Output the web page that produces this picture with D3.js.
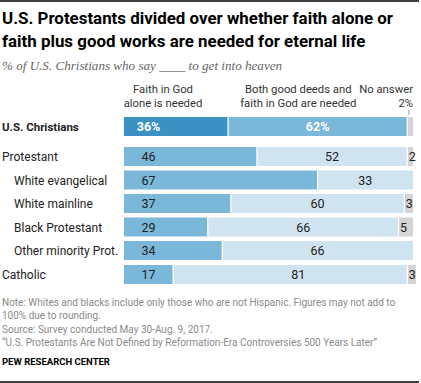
<!DOCTYPE html>
<html><head><meta charset="utf-8">
<script src="https://cdn.jsdelivr.net/npm/d3@7"></script>
<style>body{margin:0;background:#fff}svg{display:block}</style>
</head><body><div id="chart"></div>
<script>
const categories = ["U.S. Christians","Protestant","White evangelical","White mainline","Black Protestant","Other minority Prot.","Catholic"];
const indent = [0,0,1,1,1,1,0];
const faithAlone = [36,46,67,37,29,34,17];
const both = [62,52,33,60,66,66,81];
const noAnswer = [2,2,0,3,5,0,3];
const noAnswerLabel = ["","2","","3","5","","3"];
const seriesNames = ["Faith in God|alone is needed","Both good deeds and|faith in God are needed","No answer|2%"];

const W=421,H=383;
const svg=d3.select("#chart").append("svg").attr("width",W).attr("height",H);
const x=d3.scaleLinear().domain([0,100]).range([124,413]);
const rowY=[117,147,170.5,194,217.5,241,265];
const y=d3.scaleOrdinal().domain(categories).range(rowY);
const bh=19;

svg.append("line").attr("x1",0).attr("x2",419).attr("y1",1).attr("y2",1).attr("stroke","#000").attr("stroke-width",1.5);
svg.append("line").attr("x1",0).attr("x2",419).attr("y1",382).attr("y2",382).attr("stroke","#000").attr("stroke-width",1.5);

const title=svg.append("text").attr("x",2).attr("font-family","Roboto, sans-serif").attr("font-weight",700).attr("font-size",16.9).attr("fill","#000");
title.append("tspan").attr("x",2).attr("y",24).text("U.S. Protestants divided over whether faith alone or");
title.append("tspan").attr("x",2).attr("y",47).text("faith plus good works are needed for eternal life");
svg.append("text").attr("x",2).attr("y",70).attr("font-family","Liberation Serif, serif").attr("font-style","italic").attr("font-size",13.1).attr("fill","#666").text("% of U.S. Christians who say ____ to get into heaven");

// legend header
const hx=[x(13.5),x(60.3),413], ha=["middle","middle","end"];
seriesNames.forEach((s,i)=>{
  const t=svg.append("text").attr("font-family","Roboto, sans-serif").attr("font-size",11.3).attr("fill","#333").attr("text-anchor",ha[i]);
  s.split("|").forEach((l,j)=>t.append("tspan").attr("x",hx[i]).attr("y",93+j*14).text(l));
});
svg.append("line").attr("x1",x(98.6)).attr("x2",x(98.6)).attr("y1",110).attr("y2",115).attr("stroke","#999");

const colA=["#3a91c2","#7ab7d8","#7ab7d8","#7ab7d8","#7ab7d8","#7ab7d8","#7ab7d8"];
const colB=["#7ab7d8","#d0e3f1","#d0e3f1","#d0e3f1","#d0e3f1","#d0e3f1","#d0e3f1"];
categories.forEach((c,i)=>{
  const y0=y(c);
  const a=faithAlone[i], b=both[i], n=noAnswer[i];
  const g=svg.append("g");
  g.append("rect").attr("x",x(0)).attr("y",y0).attr("width",x(a)-x(0)).attr("height",bh).attr("fill",colA[i]);
  g.append("rect").attr("x",x(a)).attr("y",y0).attr("width",x(a+b)-x(a)).attr("height",bh).attr("fill",colB[i]);
  if(n>0) g.append("rect").attr("x",x(a+b)).attr("y",y0).attr("width",x(a+b+n)-x(a+b)).attr("height",bh).attr("fill","#d4d4d4");
  [a,a+b].forEach(v=>{ if(v<100) g.append("line").attr("x1",x(v)).attr("x2",x(v)).attr("y1",y0).attr("y2",y0+bh).attr("stroke","#fff").attr("stroke-width",1.2);});
  const first=i===0;
  const fs=12.5, ty=y0+bh/2+4.5;
  g.append("text").attr("x",x(8.5)).attr("y",ty).attr("text-anchor","middle").attr("font-family","Roboto, sans-serif").attr("font-size",fs).attr("font-weight",first?700:400).attr("fill",first?"#fff":"#222").text(a+(first?"%":""));
  const mid=Math.max(60.3,(a+a+b)/2);
  g.append("text").attr("x",x(mid)).attr("y",ty).attr("text-anchor","middle").attr("font-family","Roboto, sans-serif").attr("font-size",fs).attr("font-weight",first?700:400).attr("fill",first?"#fff":"#222").text(b+(first?"%":""));
  if(noAnswerLabel[i]) g.append("text").attr("x",x(a+b)+1.5).attr("y",ty).attr("font-family","Roboto, sans-serif").attr("font-size",fs).attr("fill","#222").text(noAnswerLabel[i]);
  svg.append("text").attr("x",indent[i]?14:2).attr("y",ty).attr("font-family","Roboto, sans-serif").attr("font-size",first?11.5:12).attr("font-weight",first?700:400).attr("fill","#222").text(c);
});

const notes=["Note: Whites and blacks include only those who are not Hispanic. Figures may not add to","100% due to rounding.","Source: Survey conducted May 30-Aug. 9, 2017.","“U.S. Protestants Are Not Defined by Reformation-Era Controversies 500 Years Later”"];
notes.forEach((n,i)=>svg.append("text").attr("x",2).attr("y",306+i*13.3).attr("font-family","Roboto, sans-serif").attr("font-size",10).attr("fill","#8a8a8a").text(n));
svg.append("text").attr("x",2).attr("y",365).attr("font-family","Roboto, sans-serif").attr("font-weight",700).attr("font-size",9.5).attr("fill","#000").text("PEW RESEARCH CENTER");
</script></body></html>
